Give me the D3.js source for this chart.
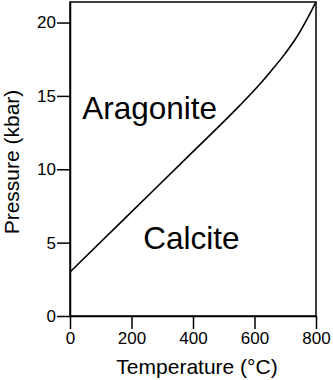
<!DOCTYPE html>
<html>
<head>
<meta charset="utf-8">
<script src="https://cdn.jsdelivr.net/npm/d3@7"></script>
<style>
html,body{margin:0;padding:0;background:#fff;}
svg{display:block;font-family:"Liberation Sans",Arial,sans-serif;}
</style>
</head>
<body>
<svg id="chart" width="333" height="380"></svg>
<script>
const temperature = [0, 200, 400, 550, 600, 650, 700, 740, 770, 790, 800];
const pressure    = [3, 7.1, 11.2, 14.3, 15.4, 16.6, 17.9, 19.1, 20.2, 21.0, 21.4];
const xTicks = [0, 200, 400, 600, 800];
const yTicks = [0, 5, 10, 15, 20];
const regionLabels = ["Aragonite", "Calcite"];
const regionPos = [[40, 13.4], [238, 4.6]];

const svg = d3.select("#chart");
const m = {left: 70, right: 17, top: 2, bottom: 64};
const W = 333, H = 380;
const x = d3.scaleLinear().domain([0, 800]).range([m.left, W - m.right]);
const y = d3.scaleLinear().domain([0, 21.4]).range([H - m.bottom, m.top]);

// frame
svg.append("rect")
  .attr("x", x(0)).attr("y", y(21.4))
  .attr("width", x(800) - x(0)).attr("height", y(0) - y(21.4))
  .attr("fill", "none").attr("stroke", "#000").attr("stroke-width", 1.5);

const xAxis = svg.append("g").attr("transform", `translate(0,${y(0)})`)
  .call(d3.axisBottom(x).tickValues(xTicks).tickSize(13).tickPadding(3).tickSizeOuter(0));
const yAxis = svg.append("g").attr("transform", `translate(${x(0)},0)`)
  .call(d3.axisLeft(y).tickValues(yTicks).tickSize(13).tickPadding(1).tickSizeOuter(0));
[xAxis, yAxis].forEach(g => {
  g.select(".domain").attr("stroke", "#000").attr("stroke-width", 1.5);
  g.selectAll(".tick line").attr("stroke", "#000").attr("stroke-width", 1.5);
  g.selectAll(".tick text").attr("fill", "#000").style("font-size", "17px")
    .style("font-family", "'Liberation Sans', Arial, sans-serif");
});

const line = d3.line().x((d, i) => x(temperature[i])).y((d, i) => y(pressure[i])).curve(d3.curveMonotoneX);
svg.append("path").datum(pressure).attr("d", line)
  .attr("fill", "none").attr("stroke", "#000").attr("stroke-width", 1.6);

svg.selectAll(".region").data(regionLabels).enter().append("text")
  .attr("x", (d, i) => x(regionPos[i][0])).attr("y", (d, i) => y(regionPos[i][1]))
  .style("font-size", "31.5px").attr("fill", "#000").text(d => d);

svg.append("text").attr("x", (x(0) + x(800)) / 2 + 4).attr("y", 374)
  .attr("text-anchor", "middle").style("font-size", "21px").text("Temperature (°C)");
svg.append("text").attr("transform", `translate(19,${(y(0)+y(21.4))/2 + 3}) rotate(-90)`)
  .attr("text-anchor", "middle").style("font-size", "21px").text("Pressure (kbar)");
</script>
</body>
</html>
